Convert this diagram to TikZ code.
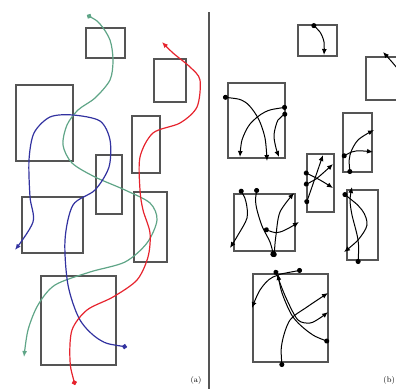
\documentclass[tikz,border=0pt]{standalone}
\usepackage{tikz}
\usetikzlibrary{arrows.meta}

\definecolor{boxgray}{RGB}{85,85,85}
\definecolor{pathgreen}{RGB}{95,165,135}
\definecolor{pathblue}{RGB}{50,50,160}
\definecolor{pathred}{RGB}{230,35,45}

\begin{document}
\begin{tikzpicture}[x=1pt,y=-1pt,
  box/.style={boxgray,line width=1.3pt},
  track/.style={line width=1.2pt,{Circle[length=5pt]}-{Latex[length=6pt,width=5pt]}},
  move/.style={black,line width=1pt,{Circle[length=5pt]}-{Latex[length=6pt,width=5pt]}}]

\useasboundingbox (0,0) rectangle (396,389);

% panel (a): obstacles
\draw[box] (86,28) rectangle (125,58);
\draw[box] (154,59) rectangle (186,102);
\draw[box] (16,85) rectangle (73,161);
\draw[box] (132,116) rectangle (160,173);
\draw[box] (96,155) rectangle (122,214);
\draw[box] (22,197) rectangle (83,253);
\draw[box] (134,192) rectangle (167,262);
\draw[box] (41,276) rectangle (116,365);

% panel (a): tracks
\draw[track,pathgreen] plot[smooth] coordinates {(87,15) (100,24) (110,40) (113,60) (110,80) (95,98) (78,110) (67,125) (63,145) (72,163) (95,177) (125,190) (150,203) (157,220) (147,243) (125,262) (90,272) (55,285) (38,305) (28,330) (24,357)};
\draw[track,pathblue] plot[smooth] coordinates {(127,347) (100,340) (80,320) (68,285) (65,240) (73,205) (95,190) (109,167) (110,140) (100,121) (73,115) (50,117) (34,133) (29,160) (30,197) (33,222) (15,250)};
\draw[track,pathred] plot[smooth] coordinates {(75,385) (70,360) (72,330) (87,310) (113,297) (137,280) (148,257) (150,233) (143,210) (140,190) (140,157) (153,133) (180,123) (197,107) (200,80) (190,67) (173,53) (162,42)};

\node[font=\footnotesize] (lbla) at (196,380) {(a)};

% divider
\draw[boxgray,line width=1.5pt] (209,12) -- (209,389);

% panel (b): obstacles
\draw[box] (298,25) rectangle (337,56);
\draw[box] (366,57) rectangle (400,100);
\draw[box] (228,83) rectangle (285,158);
\draw[box] (343,113) rectangle (372,172);
\draw[box] (307,154) rectangle (334,212);
\draw[box] (347,190) rectangle (378,260);
\draw[box] (234,194) rectangle (295,251);
\draw[box] (253,274) rectangle (328,362);

% panel (b): moves
\draw[move] plot[smooth] coordinates {(312,24) (320,32) (324,42) (324,55)};
\draw[move,{Circle[length=0pt]}-{Latex[length=6pt,width=5pt]}] plot[smooth] coordinates {(402,74) (392,62) (383,52)};

\draw[move] plot[smooth] coordinates {(223,97) (245,102) (258,118) (265,138) (267,161)};
\draw[move] plot[smooth] coordinates {(287,107) (265,112) (250,124) (242,140) (240,157)};
\draw[move] plot[smooth] coordinates {(287,113) (278,120) (274,135) (276,148) (279,157)};

\draw[move] plot[smooth] coordinates {(342,157) (356,151) (373,152)};
\draw[move] plot[smooth] coordinates {(350,174) (350,155) (358,140) (374,130)};

\draw[move] plot[smooth] coordinates {(304,172) (320,180) (333,188)};
\draw[move] plot[smooth] coordinates {(304,185) (316,179) (333,164)};
\draw[move] plot[smooth] coordinates {(306,204) (313,184) (323,155)};

\draw[move] plot[smooth] coordinates {(343,193) (362,210) (367,225) (358,240) (344,252)};
\draw[move] plot[smooth] coordinates {(358,264) (358,240) (352,215) (350,200) (352,187)};

\draw[move] plot[smooth] coordinates {(240,189) (246,202) (247,218) (238,235) (230,248)};
\draw[move,{Circle[length=5pt]}-{Circle[length=6pt]}] plot[smooth] coordinates {(257,188) (256,205) (262,226) (270,242) (274,257)};
\draw[move] plot[smooth] coordinates {(274,257) (276,235) (280,212) (294,193)};
\draw[move] plot[smooth] coordinates {(264,229) (280,232) (299,222)};

\draw[move] plot[smooth] coordinates {(302,270) (273,277) (260,290) (252,308)};
\draw[move] plot[smooth] coordinates {(329,342) (310,333) (293,317) (282,293) (278,274)};
\draw[move] plot[smooth] coordinates {(275,270) (287,300) (298,320) (310,323) (320,318) (328,312)};
\draw[move] plot[smooth] coordinates {(282,367) (282,343) (290,320) (307,307) (328,293)};

\node[font=\footnotesize,anchor=east,inner xsep=1pt] (lblb) at (396,380) {(b)};
\end{tikzpicture}
\end{document}
